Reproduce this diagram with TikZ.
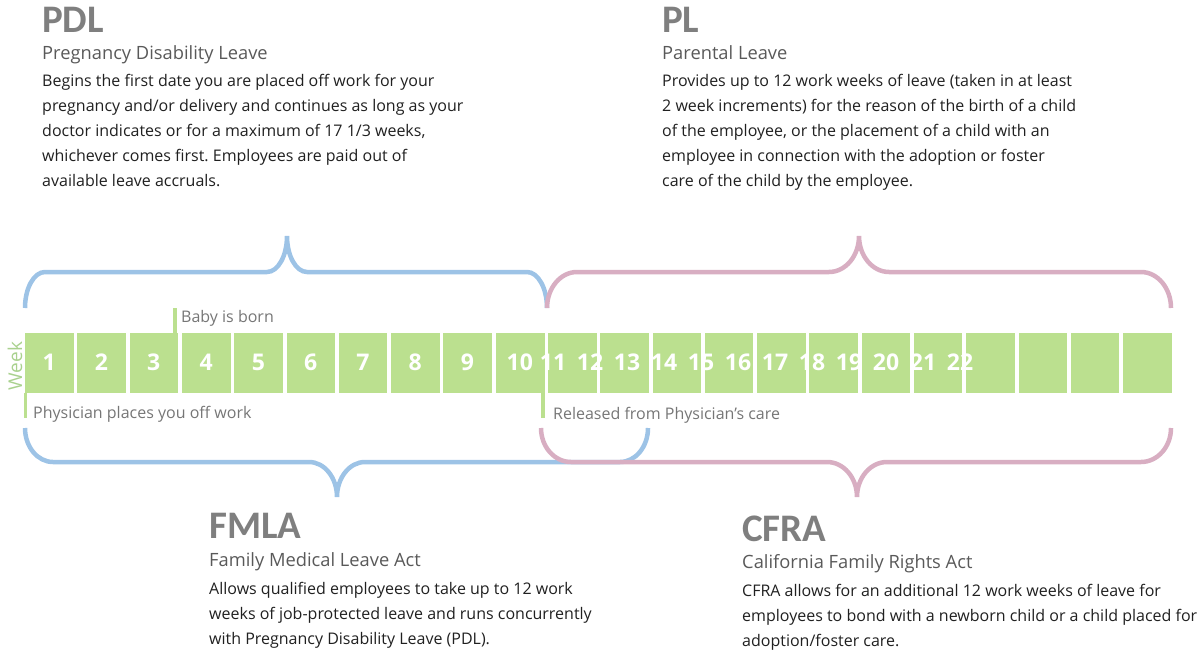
\documentclass[tikz,border=0pt]{standalone}
\usepackage{fontspec}
\setmainfont{Open Sans}
\newfontfamily\titlefont{Carlito}
\definecolor{boxgreen}{RGB}{187,224,143}
\definecolor{weekgreen}{RGB}{169,209,142}
\definecolor{braceblue}{RGB}{157,195,230}
\definecolor{bracepink}{RGB}{216,174,194}
\definecolor{titlegray}{RGB}{127,127,127}
\definecolor{subgray}{RGB}{89,89,89}
\definecolor{bodygray}{RGB}{32,32,32}
\definecolor{markgray}{RGB}{118,118,118}
\frenchspacing
% x0, xc, x1, r, ytip, yh, ypk, colour
\newcommand\mybrace[8]{%
  \draw[bracestyle,#8] (#1,#5) .. controls (#1,{#6+0.4477*(#5-#6)}) and ({#1+0.4477*#4},#6) .. ({#1+#4},#6)
    -- ({#2-#4},#6) .. controls ({#2-0.4477*#4},#6) and (#2,{#7+0.5523*(#6-#7)}) .. (#2,#7)
    .. controls (#2,{#7+0.5523*(#6-#7)}) and ({#2+0.4477*#4},#6) .. ({#2+#4},#6)
    -- ({#3-#4},#6) .. controls ({#3-0.4477*#4},#6) and (#3,{#6+0.4477*(#5-#6)}) .. (#3,#5);
}
\begin{document}
\begin{tikzpicture}[x=1pt,y=-1pt,
  wk/.style={fill=boxgreen, draw=none, inner sep=0, minimum width=48.5pt, minimum height=60pt, anchor=north west},
  num/.style={anchor=base, text=white, font=\bfseries\fontsize{23}{23}\selectfont, inner sep=0},
  ttl/.style={anchor=base west, inner sep=0, text=titlegray, font=\titlefont\bfseries\fontsize{39}{39}\selectfont},
  sub/.style={anchor=base west, inner sep=0, text=subgray, font=\fontsize{18.3}{22}\selectfont},
  body/.style={anchor=base west, inner sep=0, text=bodygray, font=\frenchspacing\fontsize{16}{25}\selectfont},
  marklbl/.style={anchor=base west, inner sep=0, text=markgray, font=\fontsize{16}{20}\selectfont},
  mline/.style={draw=boxgreen, line width=3.5pt},
  bracestyle/.style={line width=4.5pt}
]
\useasboundingbox (0,0) rectangle (1204,650);

% week boxes
\foreach \i in {1,...,22} {
  \node[wk] (w\i) at ({25+52.28*(\i-1)},333) {};
}
% markers
\draw[mline] (175,308) -- (175,333);
\node[marklbl] (baby) at (181,322) {Baby is born};
\draw[mline] (25.5,393) -- (25.5,418);
\node[marklbl] (phys) at (33,418) {Physician places you off work};
\draw[mline] (543,333) -- (543,418);
\node[marklbl] (rel) at (553,419) {Released from Physician’s care};

\foreach \i in {1,...,10} {
  \node[num] (n\i) at ({49.25+52.28*(\i-1)},370) {\i};
}
\foreach \i in {11,...,22} {
  \node[num] (n\i) at ({553+37*(\i-11)},370) {\i};
}
\node[rotate=90, text=weekgreen, font=\fontsize{19}{19}\selectfont, inner sep=0] (week) at (15,366) {Week};

% braces
\mybrace{25}{287}{547}{20}{308}{272}{236}{braceblue}
\mybrace{547}{859}{1171}{30}{308}{272}{236}{bracepink}
\mybrace{25}{337}{648}{28}{428}{462}{497}{braceblue}
\mybrace{541}{857}{1171}{30}{428}{462}{497}{bracepink}

% PDL
\node[ttl] (pdlT) at (42,33) {PDL};
\node[sub] (pdlS) at (42,60) {Pregnancy Disability Leave};
\node[body] (pdlB) at (42,87) {\parbox[t]{480pt}{\raggedright
Begins the first date you are placed off work for your\\
pregnancy and/or delivery and continues as long as your\\
doctor indicates or for a maximum of 17 1/3 weeks,\\
whichever comes first. Employees are paid out of\\
available leave accruals.}};

% PL
\node[ttl] (plT) at (662,33) {PL};
\node[sub] (plS) at (662,60) {Parental Leave};
\node[body] (plB) at (662,87) {\parbox[t]{480pt}{\raggedright
Provides up to 12 work weeks of leave (taken in at least\\
2 week increments) for the reason of the birth of a child\\
of the employee, or the placement of a child with an\\
employee in connection with the adoption or foster\\
care of the child by the employee.}};

% FMLA
\node[ttl] (fmT) at (209,538) {FMLA};
\node[sub] (fmS) at (209,566) {Family Medical Leave Act};
\node[body] (fmB) at (209,594) {\parbox[t]{480pt}{\raggedright
Allows qualified employees to take up to 12 work\\
weeks of job-protected leave and runs concurrently\\
with Pregnancy Disability Leave (PDL).}};

% CFRA
\node[ttl] (cfT) at (742,541) {CFRA};
\node[sub] (cfS) at (742,568) {California Family Rights Act};
\node[body] (cfB) at (742,596) {\parbox[t]{480pt}{\raggedright
CFRA allows for an additional 12 work weeks of leave for\\
employees to bond with a newborn child or a child placed for\\
adoption/foster care.}};
\end{tikzpicture}
\end{document}
